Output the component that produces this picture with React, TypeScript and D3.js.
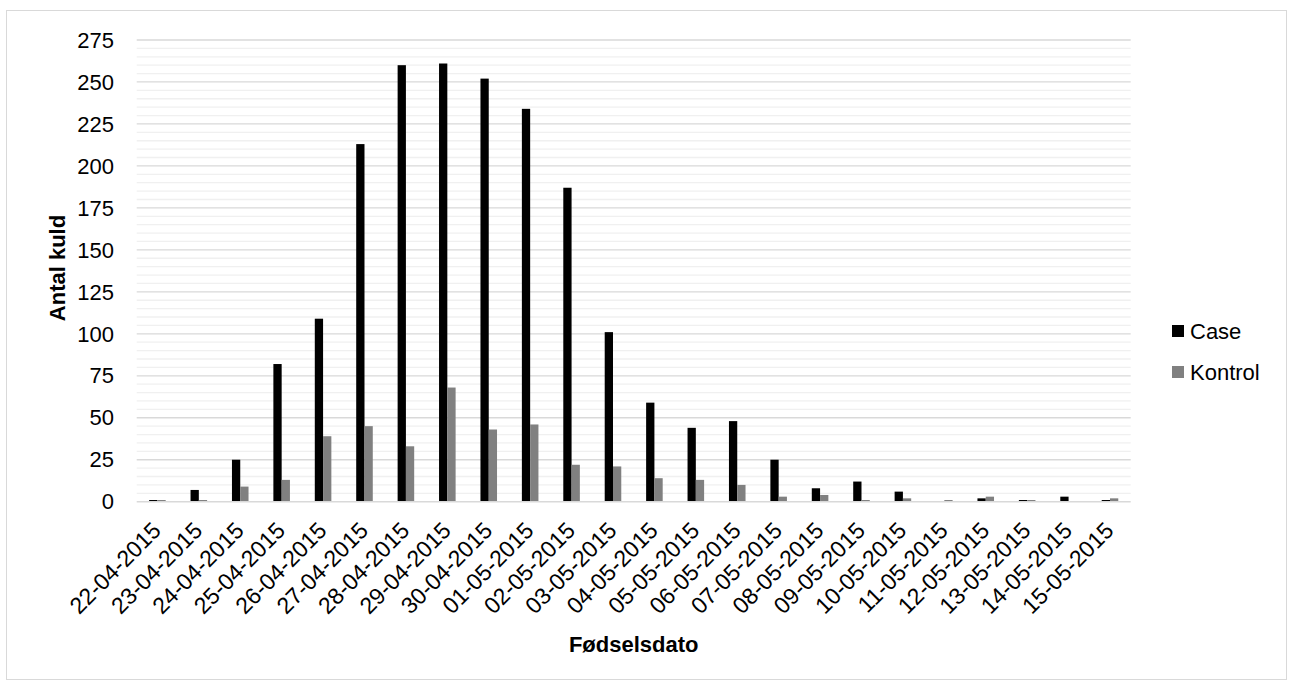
import React from "react";
import * as d3 from "d3";

const dates = [
  "22-04-2015", "23-04-2015", "24-04-2015", "25-04-2015", "26-04-2015", "27-04-2015",
  "28-04-2015", "29-04-2015", "30-04-2015", "01-05-2015", "02-05-2015", "03-05-2015",
  "04-05-2015", "05-05-2015", "06-05-2015", "07-05-2015", "08-05-2015", "09-05-2015",
  "10-05-2015", "11-05-2015", "12-05-2015", "13-05-2015", "14-05-2015", "15-05-2015",
];
const caseVals = [1, 7, 25, 82, 109, 213, 260, 261, 252, 234, 187, 101, 59, 44, 48, 25, 8, 12, 6, 0, 2, 1, 3, 1];
const kontrolVals = [1, 1, 9, 13, 39, 45, 33, 68, 43, 46, 22, 21, 14, 13, 10, 3, 4, 1, 2, 1, 3, 1, 0, 2];
const seriesNames = ["Case", "Kontrol"];
const seriesColors = ["#000000", "#808080"];
const yTicks = [0, 25, 50, 75, 100, 125, 150, 175, 200, 225, 250, 275];

const W = 1291;
const H = 684;
const left = 136.7;
const right = 1130.7;
const top = 40;
const bottom = 501.7;
const FONT = "'Liberation Sans', Arial, sans-serif";

export default function App() {
  const x = d3.scaleBand<string>().domain(dates).range([left, right]).paddingInner(0.6).paddingOuter(0.3);
  const xs = d3.scaleBand<string>().domain(seriesNames).range([0, x.bandwidth()]).padding(0);
  const y = d3.scaleLinear().domain([0, 275]).range([bottom, top]);
  const minor = d3.range(5, 276, 5).filter((v) => v % 25 !== 0);
  const series = [caseVals, kontrolVals];

  return (
    <svg width={W} height={H} style={{ position: "absolute", left: 0, top: 0 }} fontFamily={FONT}>
      <rect x={0} y={0} width={W} height={H} fill="#ffffff" />
      <rect x={6.5} y={10.5} width={1280} height={669} fill="none" stroke="#d9d9d9" strokeWidth={1} />
      {minor.map((v) => (
        <line key={"m" + v} x1={left} x2={right} y1={y(v)} y2={y(v)} stroke="#f0f0f0" strokeWidth={1.3} />
      ))}
      {yTicks.filter((v) => v > 0).map((v) => (
        <line key={"M" + v} x1={left} x2={right} y1={y(v)} y2={y(v)} stroke="#d9d9d9" strokeWidth={1.3} />
      ))}
      {series.map((vals, si) =>
        vals.map((v, i) =>
          v > 0 ? (
            <rect
              key={si + "-" + i}
              x={(x(dates[i]) as number) + (xs(seriesNames[si]) as number)}
              y={y(v)}
              width={xs.bandwidth()}
              height={y(0) - y(v)}
              fill={seriesColors[si]}
            />
          ) : null
        )
      )}
      <line x1={left} x2={right} y1={y(0)} y2={y(0)} stroke="#d9d9d9" strokeWidth={1.5} />
      {yTicks.map((v) => (
        <text key={"t" + v} x={114} y={y(v)} dy="0.35em" textAnchor="end" fontSize={22} fill="#000">
          {v}
        </text>
      ))}
      {dates.map((d) => {
        const cx = (x(d) as number) + x.bandwidth() / 2;
        return (
          <text
            key={"x" + d}
            transform={`translate(${cx + 5},${532}) rotate(-45)`}
            textAnchor="end"
            fontSize={23}
            fill="#000"
          >
            {d}
          </text>
        );
      })}
      <text transform={`translate(65,268) rotate(-90)`} textAnchor="middle" fontSize={22} fontWeight="bold" fill="#000">
        Antal kuld
      </text>
      <text x={(left + right) / 2} y={652} textAnchor="middle" fontSize={22} fontWeight="bold" fill="#000">
        Fødselsdato
      </text>
      {seriesNames.map((s, i) => (
        <g key={"l" + s} transform={`translate(1172,${331 + i * 41})`}>
          <rect x={0} y={-6} width={12} height={12} fill={seriesColors[i]} />
          <text x={18} y={0} dy="0.35em" fontSize={22} fill="#000">
            {s}
          </text>
        </g>
      ))}
    </svg>
  );
}
